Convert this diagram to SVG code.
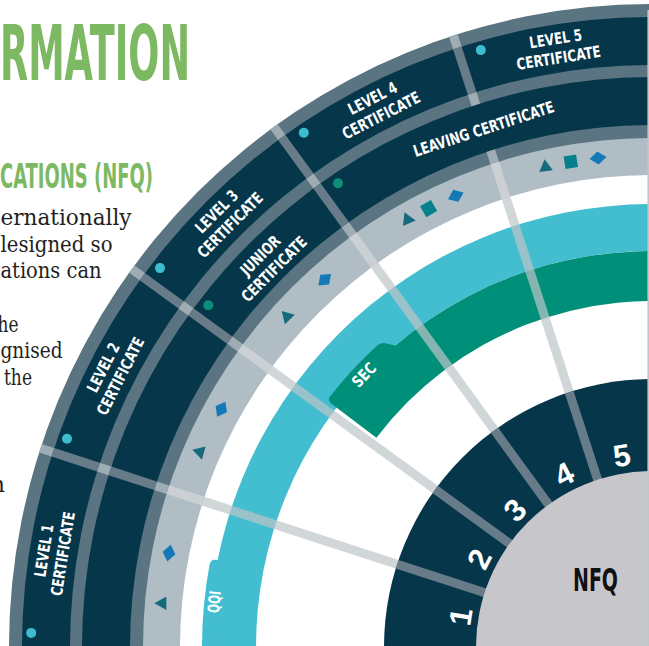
<svg xmlns="http://www.w3.org/2000/svg" xmlns:xlink="http://www.w3.org/1999/xlink" width="649" height="646" viewBox="0 0 649 646">
<style>
.sans{font-family:"Liberation Sans Narrow","DejaVu Sans Condensed","Liberation Sans",Arial,sans-serif;font-weight:bold}
.lab{fill:#ffffff;font-size:16px;text-anchor:middle}
.num{fill:#ffffff;font-size:31px;text-anchor:middle;font-family:"Liberation Sans",Arial,sans-serif;font-weight:bold}
.body{font-family:"DejaVu Serif","Liberation Serif",serif;font-size:22.5px;fill:#231f20}
.head{fill:#7db962}
.sm{stroke:#9eacb4;stroke-width:9}
.sd{stroke:#687b88;stroke-width:9}
.sb{stroke:#cad0d4;stroke-width:9}
.sl{stroke:rgb(190,196,200);stroke-opacity:0.7;stroke-width:9}
.dc{fill:#3ebdd1}
.dg{fill:#0c8e79}
.tri{fill:#176a7b}
.sq{fill:#07808d}
.dia{fill:#1479b6}
</style>
<defs>
<g id="spk">
<line x1="-643" y1="0" x2="-630" y2="0" class="sm"/>
<line x1="-630" y1="0" x2="-582" y2="0" class="sd"/>
<line x1="-582" y1="0" x2="-570" y2="0" class="sm"/>
<line x1="-522" y1="0" x2="-509" y2="0" class="sm"/>
<line x1="-509" y1="0" x2="-472" y2="0" class="sb"/>
<line x1="-472" y1="0" x2="-268" y2="0" class="sl"/>
<line x1="-268" y1="0" x2="-170" y2="0" class="sd"/>
</g>
<path id="tri" d="M0,-7.5 L6.8,4.5 L-6.8,4.5 Z"/>
<rect id="sqr" x="-6.3" y="-6.3" width="12.6" height="12.6"/>
<path id="dmd" d="M-8.5,0 L0,-6.5 L8.5,0 L0,6.5 Z"/>
</defs>
<rect x="0" y="0" width="649" height="646" fill="#ffffff"/>

<g id="intro">
<text class="sans head" x="0" y="80" font-size="77" textLength="190" lengthAdjust="spacingAndGlyphs">RMATION</text>
<text class="sans head" x="0" y="188" font-size="34" textLength="153" lengthAdjust="spacingAndGlyphs">CATIONS (NFQ)</text>
<text class="body" x="0.5" y="225" textLength="131" lengthAdjust="spacingAndGlyphs">ernationally</text>
<text class="body" x="0.5" y="252" textLength="112" lengthAdjust="spacingAndGlyphs">lesigned so</text>
<text class="body" x="0.5" y="278" textLength="101" lengthAdjust="spacingAndGlyphs">ations can</text>
<text class="body" x="18.5" y="332" text-anchor="end" textLength="21" lengthAdjust="spacingAndGlyphs">he</text>
<text class="body" x="0.5" y="358" textLength="62" lengthAdjust="spacingAndGlyphs">gnised</text>
<text class="body" x="4" y="385" textLength="28" lengthAdjust="spacingAndGlyphs">the</text>
<text class="body" x="5" y="492" text-anchor="end">n</text>
</g>

<g id="rings">
<circle cx="652" cy="647" r="643" fill="#5a7481"/>
<circle cx="652" cy="647" r="630" fill="#05364a"/>
<circle cx="652" cy="647" r="582" fill="#5a7481"/>
<circle cx="652" cy="647" r="570" fill="#05364a"/>
<circle cx="652" cy="647" r="522" fill="#5a7481"/>
<circle cx="652" cy="647" r="509" fill="#b0bdc4"/>
<circle cx="652" cy="647" r="472" fill="#ffffff"/>
</g>

<g id="qqi">
<circle cx="652" cy="647" r="443" fill="#43bdd0"/>
<circle cx="652" cy="647" r="396" fill="#ffffff"/>
<path d="M212.6,670 L202.6,670.6 A450,450 0 0 1 209.5,565 Q210.7,558.8 216.6,560 L220.5,560.8 Z" fill="#43bdd0"/>
<text class="sans lab" font-size="15" transform="translate(214.5,602) rotate(-84)" y="5.3" textLength="22" lengthAdjust="spacingAndGlyphs">QQI</text>
</g>

<g id="sec">
<path d="M376.4,437.8 L331.8,404 Q327,400.3 330.1,396.4 A408,408 0 0 1 376.9,345.7 Q380.6,342.4 385,343.3 L395.4,345.4 A396,396 0 0 1 720.8,257 L712.1,306.3 A346,346 0 0 0 376.4,437.8 Z" fill="#009079"/>
<text class="sans lab" transform="translate(364,375) rotate(-47)" y="5.5" textLength="27" lengthAdjust="spacingAndGlyphs">SEC</text>
</g>

<g id="nfq-ring">
<circle cx="652" cy="647" r="268" fill="#05364a"/>
</g>

<g id="connectors" transform="translate(652,647)">
<g transform="rotate(18)"><use xlink:href="#spk"/><line x1="-570" y1="0" x2="-522" y2="0" class="sd"/></g>
<g transform="rotate(36)"><use xlink:href="#spk"/><line x1="-570" y1="0" x2="-522" y2="0" class="sd"/></g>
<g transform="rotate(54)"><use xlink:href="#spk"/><line x1="-570" y1="0" x2="-522" y2="0" class="sd"/></g>
<g transform="rotate(72)"><use xlink:href="#spk"/></g>
</g>

<g id="nfq">
<circle cx="652" cy="647" r="176" fill="#c7c7cb"/>
<text class="sans" x="595.5" y="591" font-size="32" fill="#111111" text-anchor="middle" textLength="45" lengthAdjust="spacingAndGlyphs">NFQ</text>
<text class="num" transform="translate(460.4,616.7) rotate(-81)" y="11">1</text>
<text class="num" transform="translate(479.1,558.9) rotate(-63)" y="11">2</text>
<text class="num" transform="translate(514.8,509.8) rotate(-45)" y="11">3</text>
<text class="num" transform="translate(563.9,474.1) rotate(-27)" y="11">4</text>
<text class="num" transform="translate(621.7,455.4) rotate(-9)" y="11">5</text>
</g>

<g id="level1">
<circle cx="31.2" cy="632.9" r="5" class="dc"/>
<g transform="translate(53,552.1) rotate(-81)"><text class="sans lab" y="-3.7" textLength="53" lengthAdjust="spacingAndGlyphs">LEVEL 1</text><text class="sans lab" y="15.5" textLength="85" lengthAdjust="spacingAndGlyphs">CERTIFICATE</text></g>
</g>
<g id="level2">
<circle cx="67" cy="438.7" r="5" class="dc"/>
<g transform="translate(111.6,371.7) rotate(-63)"><text class="sans lab" y="-3.7" textLength="53" lengthAdjust="spacingAndGlyphs">LEVEL 2</text><text class="sans lab" y="15.5" textLength="85" lengthAdjust="spacingAndGlyphs">CERTIFICATE</text></g>
</g>
<g id="level3">
<circle cx="160" cy="268.1" r="5" class="dc"/>
<g transform="translate(223.1,218.1) rotate(-45)"><text class="sans lab" y="-3.7" textLength="53" lengthAdjust="spacingAndGlyphs">LEVEL 3</text><text class="sans lab" y="15.5" textLength="85" lengthAdjust="spacingAndGlyphs">CERTIFICATE</text></g>
</g>
<g id="level4">
<circle cx="303.8" cy="132.8" r="5" class="dc"/>
<g transform="translate(376.7,106.6) rotate(-27)"><text class="sans lab" y="-3.7" textLength="53" lengthAdjust="spacingAndGlyphs">LEVEL 4</text><text class="sans lab" y="15.5" textLength="85" lengthAdjust="spacingAndGlyphs">CERTIFICATE</text></g>
</g>
<g id="level5">
<circle cx="480.8" cy="50.1" r="5" class="dc"/>
<g transform="translate(557.1,48) rotate(-9)"><text class="sans lab" y="-3.7" textLength="53" lengthAdjust="spacingAndGlyphs">LEVEL 5</text><text class="sans lab" y="15.5" textLength="85" lengthAdjust="spacingAndGlyphs">CERTIFICATE</text></g>
</g>
<g id="junior">
<circle cx="208.3" cy="305.3" r="5" class="dg"/>
<g transform="translate(267,262) rotate(-45)"><text class="sans lab" y="-3.7" textLength="49" lengthAdjust="spacingAndGlyphs">JUNIOR</text><text class="sans lab" y="15.5" textLength="85" lengthAdjust="spacingAndGlyphs">CERTIFICATE</text></g>
</g>
<g id="leaving">
<circle cx="338" cy="183.3" r="5" class="dg"/>
<text class="sans lab" transform="translate(483.6,128.7) rotate(-18)" y="5.8" textLength="147" lengthAdjust="spacingAndGlyphs">LEAVING CERTIFICATE</text>
</g>

<g id="symbols">
<use xlink:href="#tri" class="tri" transform="translate(161.9,603.3) rotate(-90)"/>
<use xlink:href="#dmd" class="dia" transform="translate(169,553.1) rotate(-79)"/>
<use xlink:href="#tri" class="tri" transform="translate(200.1,452.4) rotate(166)"/>
<use xlink:href="#dmd" class="dia" transform="translate(221.3,409.2) rotate(-61)"/>
<use xlink:href="#tri" class="tri" transform="translate(287,317.1) rotate(196)"/>
<use xlink:href="#dmd" class="dia" transform="translate(324.7,279.7) rotate(-42)"/>
<use xlink:href="#tri" class="tri" transform="translate(408.2,219.6) rotate(96)"/>
<use xlink:href="#sqr" class="sq" transform="translate(428.6,208.6) rotate(-30)"/>
<use xlink:href="#dmd" class="dia" transform="translate(455.8,195.8) rotate(-23.5)"/>
<use xlink:href="#tri" class="tri" transform="translate(545.5,166.7) rotate(-7)"/>
<use xlink:href="#sqr" class="sq" transform="translate(570.8,161.7) rotate(-9)"/>
<use xlink:href="#dmd" class="dia" transform="translate(598,158) rotate(-6)"/>
</g>

<line x1="648.2" y1="10" x2="648.2" y2="646" stroke="#c3c6ca" stroke-width="1.6"/>
</svg>
